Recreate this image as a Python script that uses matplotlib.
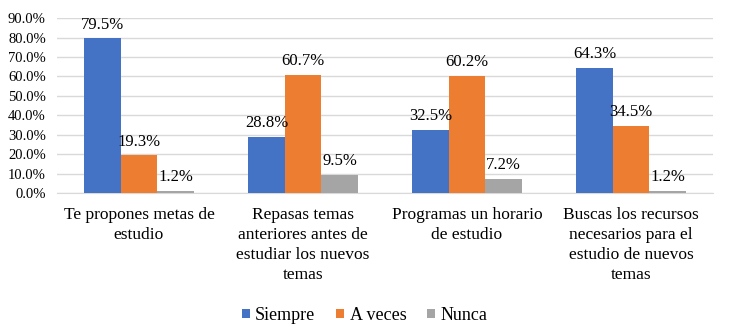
import numpy as np
import matplotlib.pyplot as plt

plt.rcParams['font.family'] = ['Liberation Serif', 'DejaVu Serif']

categories = [
    "Te propones metas de\nestudio",
    "Repasas temas\nanteriores antes de\nestudiar los nuevos\ntemas",
    "Programas un horario\nde estudio",
    "Buscas los recursos\nnecesarios para el\nestudio de nuevos\ntemas",
]
siempre = [79.5, 28.8, 32.5, 64.3]
a_veces = [19.3, 60.7, 60.2, 34.5]
nunca = [1.2, 9.5, 7.2, 1.2]

series = [("Siempre", siempre, "#4472C4"),
          ("A veces", a_veces, "#ED7D31"),
          ("Nunca", nunca, "#A5A5A5")]

fig = plt.figure(figsize=(7.38, 3.35), dpi=100)
ax = fig.add_axes([0.0772, 0.424, 0.889, 0.522])

x = np.arange(len(categories))
w = 0.2226
for i, (name, vals, color) in enumerate(series):
    pos = x + (i - 1) * w
    ax.bar(pos, vals, w, color=color, label=name, zorder=3)
    for p, v in zip(pos, vals):
        ax.text(p, v + 3, f"{v:.1f}%", ha="center", va="bottom", fontsize=12, zorder=4)

ax.set_xlim(-0.5, 3.5)
ax.set_ylim(0, 90)
ax.set_yticks(np.arange(0, 91, 10))
ax.set_yticklabels([f"{t:.1f}%" for t in range(0, 91, 10)], fontsize=10.5)
ax.set_xticks(x)
ax.set_xticklabels(categories, fontsize=12.5, linespacing=1.33)
ax.tick_params(axis="both", length=0)
ax.tick_params(axis="x", pad=10)
ax.tick_params(axis="y", pad=8)
ax.grid(axis="y", color="#D9D9D9", linewidth=1, zorder=0)
for s in ["top", "right", "left"]:
    ax.spines[s].set_visible(False)
ax.spines["bottom"].set_color("#D9D9D9")

leg = fig.legend(loc="center", bbox_to_anchor=(0.494, 0.058), ncol=3, frameon=False,
                 fontsize=13, handlelength=0.45, handleheight=0.45, handletextpad=0.3,
                 columnspacing=1.15)
for t in leg.get_texts():
    t.set_fontfamily("Liberation Serif")

fig.savefig("out.png", dpi=100)
